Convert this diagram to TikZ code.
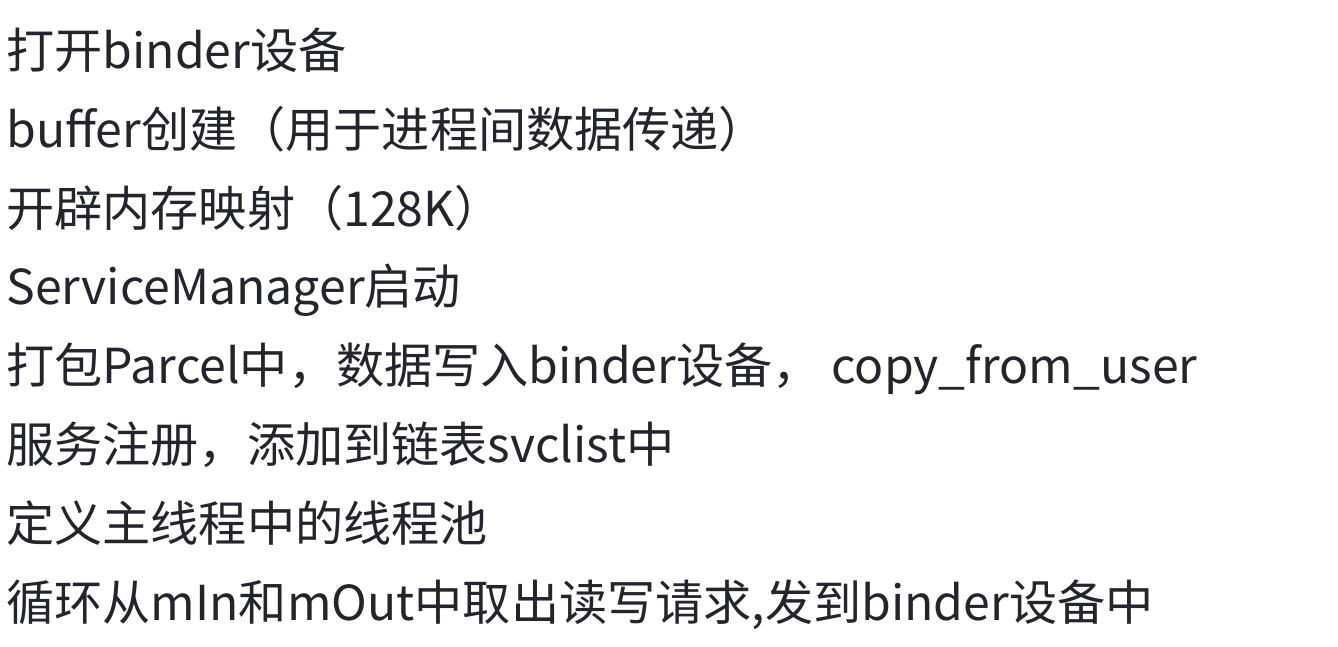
\documentclass[tikz,border=0pt]{standalone}
\usepackage{fontspec}
\setmainfont{Noto Sans CJK SC}
\usepackage{tikz}
\definecolor{inkgray}{RGB}{36,36,44}

\begin{document}
\begin{tikzpicture}[
  step line/.style={anchor=base west, inner sep=0pt, text=inkgray,
    font=\fontsize{27.4}{30}\selectfont}
]
\useasboundingbox[fill=white] (0,0) rectangle (26.76,-12.92);

\node[step line] (open) at (0.12,-1.36) {打开binder设备};
\node[step line] (buffer) at (0.12,-2.94) {buffer创建（用于进程间数据传递）};
\node[step line] (mmap) at (0.12,-4.52) {开辟内存映射（128K）};
\node[step line] (sm) at (0.12,-6.09) {ServiceManager启动};
\node[step line] (parcel) at (0.12,-7.67) {打包Parcel中，数据写入binder设备， copy\_from\_user};
\node[step line] (reg) at (0.12,-9.25) {服务注册，添加到链表svclist中};
\node[step line] (pool) at (0.12,-10.83) {定义主线程中的线程池};
\node[step line] (loop) at (0.12,-12.41) {循环从mIn和mOut中取出读写请求,发到binder设备中};
\end{tikzpicture}
\end{document}
